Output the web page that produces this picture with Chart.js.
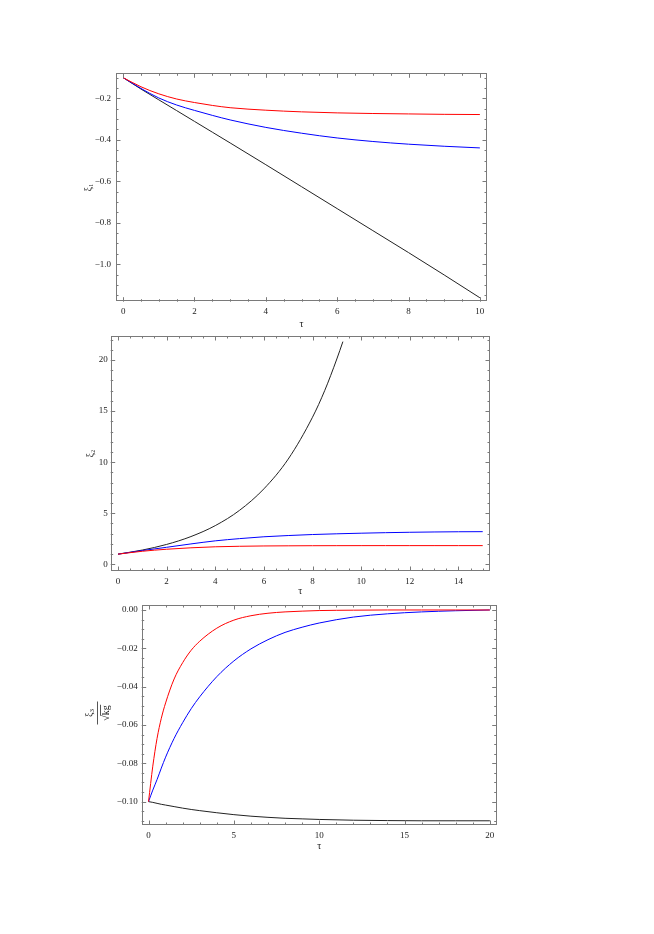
<!DOCTYPE html>
<html>
<head>
<meta charset="utf-8">
<script src="https://cdn.jsdelivr.net/npm/chart.js@4.4.0/dist/chart.umd.min.js"></script>
<style>
  html, body { margin: 0; padding: 0; background: #fff; }
  body { width: 654px; height: 934px; position: relative; overflow: hidden; }
  canvas { position: absolute; left: 0; }
</style>
</head>
<body>
<canvas id="c1" width="654" height="280" style="top:60px"></canvas>
<canvas id="c2" width="654" height="275" style="top:325px"></canvas>
<canvas id="c3" width="654" height="265" style="top:595px"></canvas>
<script>
// --- panel 1: xi1 vs tau
const tau1 = [0, 0.5, 1, 1.5, 2, 2.5, 3, 4, 5, 6, 7, 8, 9, 10];
const xi1Red = [-0.1, -0.144, -0.178, -0.203, -0.22, -0.234, -0.245, -0.257, -0.265, -0.27, -0.273, -0.275, -0.277, -0.278];
const xi1Blue = [-0.1, -0.152, -0.198, -0.232, -0.258, -0.282, -0.304, -0.34, -0.368, -0.391, -0.408, -0.421, -0.431, -0.439];
const xi1Black = [-0.1, -0.155, -0.207, -0.259, -0.311, -0.363, -0.415, -0.52, -0.626, -0.732, -0.838, -0.944, -1.052, -1.162];
const xTicks1 = [0, 2, 4, 6, 8, 10];
const yTicks1 = [-0.2, -0.4, -0.6, -0.8, -1.0];

// --- panel 2: xi2 vs tau
const tau2 = [0, 1, 2, 3, 4, 5, 6, 7, 8, 9, 10, 11, 12, 13, 14, 15];
const xi2Red = [1, 1.28, 1.48, 1.62, 1.72, 1.77, 1.8, 1.815, 1.825, 1.83, 1.832, 1.834, 1.835, 1.835, 1.835, 1.835];
const xi2Blue = [1, 1.35, 1.67, 2.0, 2.3, 2.52, 2.7, 2.82, 2.92, 2.99, 3.05, 3.1, 3.14, 3.17, 3.19, 3.2];
const tau2Black = [0, 1, 2, 3, 4, 5, 6, 7, 8, 8.5, 9, 9.25];
const xi2Black = [1, 1.4, 1.95, 2.72, 3.79, 5.29, 7.39, 10.3, 14.4, 17.0, 20.1, 21.8];
const xTicks2 = [0, 2, 4, 6, 8, 10, 12, 14];
const yTicks2 = [0, 5, 10, 15, 20];

// --- panel 3: xi3/sqrt(kg) vs tau
const tau3 = [0, 0.25, 0.5, 0.75, 1, 1.5, 2, 2.5, 3, 4, 5, 6, 7, 8, 9, 10, 12, 14, 16, 18, 20];
const xi3Red = [-0.1, -0.0815, -0.067, -0.0565, -0.0485, -0.036, -0.0275, -0.021, -0.0163, -0.0095, -0.0053, -0.003, -0.0017, -0.001, -0.0006, -0.0003, -0.0001, 0, 0, 0, 0];
const xi3Blue = [-0.1, -0.094, -0.0885, -0.0825, -0.0768, -0.067, -0.0588, -0.0515, -0.0453, -0.0348, -0.0266, -0.0203, -0.0155, -0.0117, -0.009, -0.0068, -0.0037, -0.002, -0.001, -0.0004, 0];
const xi3Black = [-0.1, -0.1004, -0.1009, -0.1014, -0.1018, -0.1026, -0.1034, -0.1041, -0.1047, -0.1058, -0.1068, -0.1076, -0.1082, -0.1087, -0.109, -0.1093, -0.1097, -0.1099, -0.11, -0.11, -0.11];
const xTicks3 = [0, 5, 10, 15, 20];
const yTicks3 = [0, -0.02, -0.04, -0.06, -0.08, -0.1];

const SERIF = "'Liberation Serif', 'DejaVu Serif', serif";
const FRAME = '#7a7a7a';

const pts = (xs, ys) => xs.map((x, i) => ({ x: x, y: ys[i] }));
const line = (xs, ys, color) => ({ data: pts(xs, ys), borderColor: color, borderWidth: 1, pointRadius: 0, fill: false });

// frame with inward major/minor ticks on all four sides
const frame = {
  id: 'frame',
  afterDatasetsDraw(chart, args, o) {
    const { ctx, chartArea: a } = chart;
    const sx = chart.scales.x, sy = chart.scales.y;
    ctx.save();
    ctx.strokeStyle = FRAME;
    ctx.lineWidth = 1;
    ctx.strokeRect(Math.round(a.left) + 0.5, Math.round(a.top) + 0.5, Math.round(a.right - a.left) - 1, Math.round(a.bottom - a.top) - 1);
    const isMajor = (v, list) => list.some(m => Math.abs(m - v) < 1e-9);
    const xTick = (v, len) => {
      const p = Math.round(sx.getPixelForValue(v)) + 0.5;
      ctx.beginPath();
      ctx.moveTo(p, a.bottom); ctx.lineTo(p, a.bottom - len);
      ctx.moveTo(p, a.top); ctx.lineTo(p, a.top + len);
      ctx.stroke();
    };
    const yTick = (v, len) => {
      const p = Math.round(sy.getPixelForValue(v)) + 0.5;
      ctx.beginPath();
      ctx.moveTo(a.left, p); ctx.lineTo(a.left + len, p);
      ctx.moveTo(a.right, p); ctx.lineTo(a.right - len, p);
      ctx.stroke();
    };
    o.xMajor.forEach(v => xTick(v, 4.5));
    o.yMajor.forEach(v => yTick(v, 4.5));
    for (let k = Math.ceil(sx.min / o.xMinor); k * o.xMinor <= sx.max; k++) {
      const v = k * o.xMinor;
      if (!isMajor(v, o.xMajor)) xTick(v, 2.5);
    }
    for (let k = Math.ceil(sy.min / o.yMinor); k * o.yMinor <= sy.max; k++) {
      const v = k * o.yMinor;
      if (!isMajor(v, o.yMajor)) yTick(v, 2.5);
    }
    ctx.restore();
  }
};

// stacked fraction  xi_3 / sqrt(kg)  as the y title of panel 3
const fracTitle = {
  id: 'fracTitle',
  afterDraw(chart, args, o) {
    if (!o.show) return;
    const ctx = chart.ctx;
    ctx.save();
    ctx.translate(o.x, o.y);
    ctx.rotate(-Math.PI / 2);
    ctx.fillStyle = '#222';
    ctx.strokeStyle = '#555';
    ctx.lineWidth = 1;
    ctx.textBaseline = 'alphabetic';
    ctx.font = '10px ' + SERIF;
    const wXi = ctx.measureText('ξ').width;
    ctx.font = '7px ' + SERIF;
    const wSub = ctx.measureText('3').width;
    const n0 = -(wXi + wSub) / 2;
    ctx.font = '10px ' + SERIF;
    ctx.fillText('ξ', n0, -5);
    ctx.font = '7px ' + SERIF;
    ctx.fillText('3', n0 + wXi, -3);
    ctx.beginPath();
    ctx.moveTo(-11.5, 0.5); ctx.lineTo(11.5, 0.5);
    ctx.stroke();
    ctx.font = '10px ' + SERIF;
    const wRad = ctx.measureText('√').width;
    const wKg = ctx.measureText('kg').width;
    const d0 = -(wRad + wKg) / 2;
    ctx.fillText('√', d0, 12);
    ctx.fillText('kg', d0 + wRad, 12);
    ctx.beginPath();
    ctx.moveTo(d0 + wRad - 0.5, 3.5); ctx.lineTo(d0 + wRad + wKg + 0.5, 3.5);
    ctx.stroke();
    ctx.restore();
  }
};

function makeChart(id, datasets, c) {
  return new Chart(document.getElementById(id), {
    type: 'line',
    data: { datasets: datasets },
    options: {
      responsive: false,
      animation: false,
      devicePixelRatio: 1,
      layout: { padding: c.pad },
      elements: { line: { cubicInterpolationMode: 'monotone' } },
      plugins: {
        legend: { display: false },
        tooltip: { enabled: false },
        frame: { xMajor: c.xTicks, yMajor: c.yTicks, xMinor: c.xMinor, yMinor: c.yMinor },
        fracTitle: c.frac || { show: false }
      },
      scales: {
        x: {
          type: 'linear', min: c.xMin, max: c.xMax,
          grid: { display: false, drawTicks: false }, border: { display: false },
          afterBuildTicks: s => { s.ticks = c.xTicks.map(v => ({ value: v })); },
          afterFit: s => { s.height = c.xH; },
          ticks: { padding: 5, autoSkip: false, maxRotation: 0, color: '#222', font: { family: SERIF, size: 9 },
                   callback: v => String(v) },
          title: { display: true, text: 'τ', padding: 0, color: '#222', font: { family: SERIF, size: 10 } }
        },
        y: {
          type: 'linear', min: c.yMin, max: c.yMax,
          grid: { display: false, drawTicks: false }, border: { display: false },
          afterBuildTicks: s => { s.ticks = c.yTicks.map(v => ({ value: v })); },
          afterFit: s => { s.width = c.yW; },
          ticks: { padding: c.yPad, autoSkip: false, color: '#222', font: { family: SERIF, size: 9 },
                   callback: c.yFmt },
          title: { display: !!c.yTitle, text: c.yTitle, padding: 0, color: '#222', font: { family: SERIF, size: 10 } }
        }
      }
    },
    plugins: [frame, fracTitle]
  });
}

const minus = s => s.replace('-', '−');

makeChart('c1', [
  line(tau1, xi1Red, '#ff0000'),
  line(tau1, xi1Blue, '#0000ff'),
  line(tau1, xi1Black, '#222222')
], {
  pad: { left: 82, top: 13.3, right: 167, bottom: 10 },
  xMin: -0.2, xMax: 10.2, yMin: -1.181, yMax: -0.079,
  xTicks: xTicks1, yTicks: yTicks1, xMinor: 0.5, yMinor: 0.05,
  xH: 28.3, yW: 34, yPad: 5, yTitle: 'ξ₁',
  yFmt: v => minus(v.toFixed(1))
});

makeChart('c2', [
  line(tau2, xi2Red, '#ff0000'),
  line(tau2, xi2Blue, '#0000ff'),
  line(tau2Black, xi2Black, '#222222')
], {
  pad: { left: 84, top: 11, right: 164, bottom: 2.3 },
  xMin: -0.3, xMax: 15.3, yMin: -0.65, yMax: 22.35,
  xTicks: xTicks2, yTicks: yTicks2, xMinor: 0.5, yMinor: 1,
  xH: 26.7, yW: 26.7, yPad: 3, yTitle: 'ξ₂',
  yFmt: v => String(v)
});

makeChart('c3', [
  line(tau3, xi3Red, '#ff0000'),
  line(tau3, xi3Blue, '#0000ff'),
  line(tau3, xi3Black, '#222222')
], {
  pad: { left: 0, top: 10, right: 157.3, bottom: 7.3 },
  xMin: -0.4, xMax: 20.4, yMin: -0.1122, yMax: 0.0026,
  xTicks: xTicks3, yTicks: yTicks3, xMinor: 1, yMinor: 0.005,
  xH: 27.7, yW: 141.7, yPad: 4, yTitle: '',
  yFmt: v => minus(v.toFixed(2)),
  frac: { show: true, x: 97, y: 118 }
});
</script>
</body>
</html>
